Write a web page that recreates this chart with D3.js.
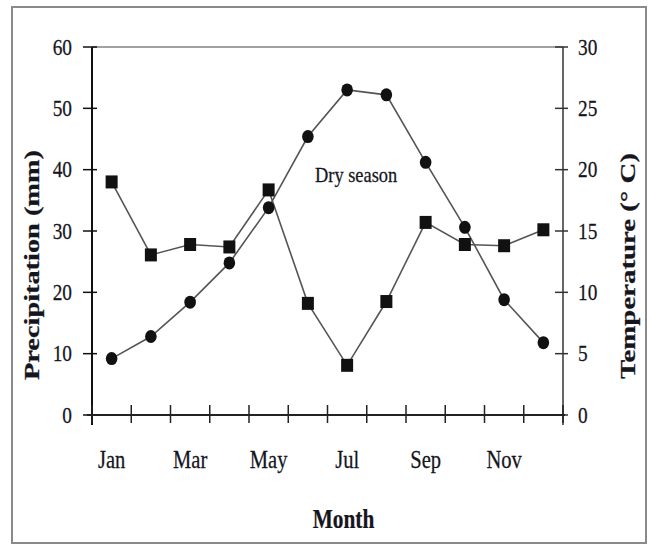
<!DOCTYPE html>
<html>
<head>
<meta charset="utf-8">
<script src="https://cdn.jsdelivr.net/npm/d3@7"></script>
<style>
  html, body { margin: 0; padding: 0; background: #fff; }
  svg text { font-family: "Liberation Serif", "Times New Roman", serif; fill: #15151d; stroke: #15151d; stroke-width: 0.25px; }
</style>
</head>
<body>
<div id="chart"></div>
<script>
// data
const months = ["Jan","Feb","Mar","Apr","May","Jun","Jul","Aug","Sep","Oct","Nov","Dec"];
const monthLabels = ["Jan","Mar","May","Jul","Sep","Nov"];
const precipitation = [38.0, 26.1, 27.8, 27.4, 36.7, 18.2, 8.1, 18.5, 31.4, 27.8, 27.6, 30.2]; // mm, squares, left axis
const temperature = [4.6, 6.4, 9.2, 12.4, 16.9, 22.7, 26.5, 26.1, 20.6, 15.3, 9.4, 5.9];     // °C, circles, right axis
const precipTicks = [0, 10, 20, 30, 40, 50, 60];
const tempTicks = [0, 5, 10, 15, 20, 25, 30];

const W = 652, H = 548;
const m = { left: 92, right: 89, top: 47, bottom: 133 };

const svg = d3.select("#chart").append("svg")
  .attr("width", W)
  .attr("height", H);

// outer frame
svg.append("rect")
  .attr("x", 12).attr("y", 7)
  .attr("width", 634).attr("height", 536)
  .attr("fill", "none")
  .attr("stroke", "#8a8a8a")
  .attr("stroke-width", 2);

const x = d3.scaleBand().domain(months).range([m.left, W - m.right]).padding(0);
const yL = d3.scaleLinear().domain([0, 60]).range([H - m.bottom, m.top]);
const yR = d3.scaleLinear().domain([0, 30]).range([H - m.bottom, m.top]);

const x0 = x.range()[0], x1 = x.range()[1];
const yBase = yL(0), yTop = yL(60);

// top border of the plot
svg.append("line")
  .attr("x1", x0).attr("x2", x1)
  .attr("y1", yTop).attr("y2", yTop)
  .attr("stroke", "#444").attr("stroke-width", 1.2);

// helper for squeezed serif text (the source looks horizontally condensed)
function label(g, tx, ty, str, size, sx, anchor, weight) {
  return g.append("text")
    .attr("transform", `translate(${tx},${ty}) scale(${sx},1)`)
    .attr("text-anchor", anchor || "middle")
    .style("font-size", size + "px")
    .style("font-weight", weight || "normal")
    .text(str);
}

// left axis
const gL = svg.append("g");
gL.append("line").attr("x1", x0).attr("x2", x0).attr("y1", yTop).attr("y2", yBase + 10)
  .attr("stroke", "#111").attr("stroke-width", 2);
precipTicks.forEach(t => {
  gL.append("line").attr("x1", x0 - 9).attr("x2", x0 + 5).attr("y1", yL(t)).attr("y2", yL(t))
    .attr("stroke", "#111").attr("stroke-width", 1.5);
  label(gL, x0 - 20, yL(t) + 7.5, t, 22.5, 0.86, "end");
});

// right axis
const gR = svg.append("g");
gR.append("line").attr("x1", x1).attr("x2", x1).attr("y1", yTop).attr("y2", yBase + 10)
  .attr("stroke", "#333").attr("stroke-width", 1.5);
tempTicks.forEach(t => {
  gR.append("line").attr("x1", x1 - 8).attr("x2", x1 + 5).attr("y1", yR(t)).attr("y2", yR(t))
    .attr("stroke", "#333").attr("stroke-width", 1.5);
  label(gR, x1 + 15, yR(t) + 7.5, t, 22.5, 0.86, "start");
});

// bottom axis
const gB = svg.append("g");
gB.append("line").attr("x1", x0 - 5).attr("x2", x1 + 2).attr("y1", yBase).attr("y2", yBase)
  .attr("stroke", "#222").attr("stroke-width", 2);
const edges = months.map(d => x(d)).concat([x1]);
edges.forEach(e => {
  gB.append("line").attr("x1", e).attr("x2", e).attr("y1", yBase - 10).attr("y2", yBase + 8)
    .attr("stroke", "#222").attr("stroke-width", 1.5);
});
monthLabels.forEach(d => {
  label(gB, x(d) + x.bandwidth() / 2, yBase + 53, d, 24.5, 0.84, "middle");
});

// axis titles
svg.append("text")
  .attr("transform", `translate(39,${(yTop + yBase) / 2 + 34}) rotate(-90)`)
  .attr("text-anchor", "middle")
  .attr("textLength", 230).attr("lengthAdjust", "spacingAndGlyphs")
  .style("font-size", "21px").style("font-weight", "bold")
  .text("Precipitation (mm)");

svg.append("text")
  .attr("transform", `translate(635,${(yTop + yBase) / 2 + 35}) rotate(-90)`)
  .attr("text-anchor", "middle")
  .attr("textLength", 226).attr("lengthAdjust", "spacingAndGlyphs")
  .style("font-size", "21px").style("font-weight", "bold")
  .text("Temperature (° C)");

label(svg, (x0 + x1) / 2 + 16, 528, "Month", 27, 0.79, "middle", "bold");

// annotation
label(svg, x("Jul") + x.bandwidth() / 2 + 9, yL(38), "Dry season", 20, 0.92, "middle");

// series
const cx = d => x(d) + x.bandwidth() / 2;

const linePrecip = d3.line().x((d, i) => cx(months[i])).y(d => yL(d));
const lineTemp = d3.line().x((d, i) => cx(months[i])).y(d => yR(d));

svg.append("path").datum(precipitation)
  .attr("d", linePrecip).attr("fill", "none")
  .attr("stroke", "#555").attr("stroke-width", 1.6);
svg.append("path").datum(temperature)
  .attr("d", lineTemp).attr("fill", "none")
  .attr("stroke", "#555").attr("stroke-width", 1.6);

svg.append("g").selectAll("rect")
  .data(precipitation)
  .join("rect")
  .attr("x", (d, i) => cx(months[i]) - 6)
  .attr("y", d => yL(d) - 6.5)
  .attr("width", 12).attr("height", 13)
  .attr("fill", "#111");

svg.append("g").selectAll("ellipse")
  .data(temperature)
  .join("ellipse")
  .attr("cx", (d, i) => cx(months[i]))
  .attr("cy", d => yR(d))
  .attr("rx", 5.8).attr("ry", 6.5)
  .attr("fill", "#111");
</script>
</body>
</html>
